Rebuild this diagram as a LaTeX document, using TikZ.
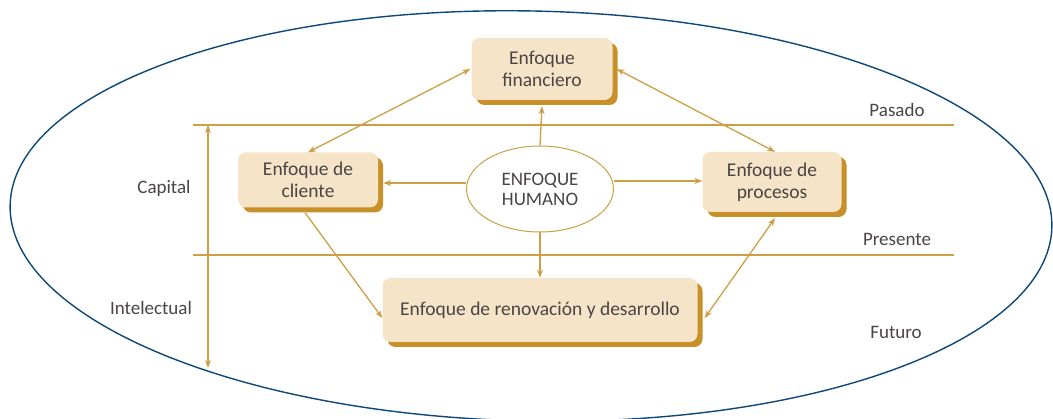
\documentclass[tikz,border=0pt]{standalone}
\usepackage{fontspec}
\setmainfont{Carlito}
\usetikzlibrary{arrows.meta,shadows,shapes.geometric}
\definecolor{boxfill}{RGB}{246,228,200}
\definecolor{gold}{RGB}{200,144,40}
\definecolor{linegold}{RGB}{205,160,70}
\definecolor{txt}{RGB}{75,68,68}
\definecolor{navy}{RGB}{14,72,120}
\tikzset{
  ebox/.style={draw=none, fill=boxfill, rounded corners=8pt, align=center,
    text=txt, font=\fontsize{19.5}{22}\selectfont,
    drop shadow={shadow xshift=5pt, shadow yshift=-5pt, fill=gold, opacity=1}},
  conn/.style={draw=linegold, line width=1.3pt},
  tip/.style={-{Stealth[length=8pt,width=6pt]}},
  bitip/.style={{Stealth[length=8pt,width=6pt]}-{Stealth[length=8pt,width=6pt]}},
  lbl/.style={text=txt, font=\fontsize{19}{21}\selectfont, inner sep=0pt}
}
\begin{document}
\begin{tikzpicture}[x=1pt,y=-1pt]
\useasboundingbox[fill=white] (0,0) rectangle (1053,419);
% outer ellipse
\draw[navy, line width=1.4pt, rotate around={-1.2:(531,216)}] (531,216) ellipse [x radius=521, y radius=205];
% timeline lines
\coordinate (l1a) at (193,125); \coordinate (l1b) at (954,125);
\coordinate (l2a) at (193,255); \coordinate (l2b) at (954,255);
\draw[conn] (l1a) -- (l1b);
\draw[conn] (l2a) -- (l2b);
\coordinate (va) at (208,125); \coordinate (vb) at (208,368);
\draw[conn, bitip] (va) -- (vb);
% labels
\node[lbl] (pas) at (897,110) {Pasado};
\node[lbl] (pre) at (897,239) {Presente};
\node[lbl] (fut) at (896,332) {Futuro};
\node[lbl] (cap) at (164,188) {Capital};
\node[lbl] (int) at (151,308) {Intelectual};
% boxes
\node[ebox, minimum width=141pt, minimum height=62pt] (fin) at (542,69) {Enfoque\\financiero};
\node[ebox, minimum width=140pt, minimum height=55pt] (cli) at (308,180) {Enfoque de\\cliente};
\node[ebox, minimum width=139pt, minimum height=60pt] (pro) at (772,182) {Enfoque de\\procesos};
\node[ebox, minimum width=315pt, minimum height=64pt] (ren) at (540,310) {Enfoque de renovación y desarrollo};
\node[ellipse, draw=linegold, line width=1pt, fill=white, minimum width=147pt, minimum height=86pt, align=center, text=txt, font=\fontsize{19}{20}\selectfont, inner sep=0pt] (hum) at (540,189) {ENFOQUE\\HUMANO};
% connectors
\coordinate (cliin) at ([yshift=-3pt]cli.east);
\coordinate (proin) at ([yshift=1pt]pro.west);
\draw[conn, bitip] ([xshift=-1pt]fin.west) -- (cli.north);
\draw[conn, bitip] ([xshift=4pt]fin.east) -- ([xshift=3pt]pro.north);
\draw[conn, tip] (hum.north) -- ([yshift=-6pt]fin.south);
\draw[conn, tip] (hum.west |- cliin) -- ([xshift=5pt]cliin);
\draw[conn, tip] (hum.east |- proin) -- (proin);
\draw[conn, tip] (hum.south) -- (ren.north);
\draw[conn, tip] ([xshift=-3pt,yshift=-5pt]cli.south) -- ([yshift=-8pt]ren.west);
\draw[conn, bitip] ([xshift=3pt,yshift=-6pt]pro.south) -- ([xshift=7pt,yshift=-8pt]ren.east);
\end{tikzpicture}
\end{document}
